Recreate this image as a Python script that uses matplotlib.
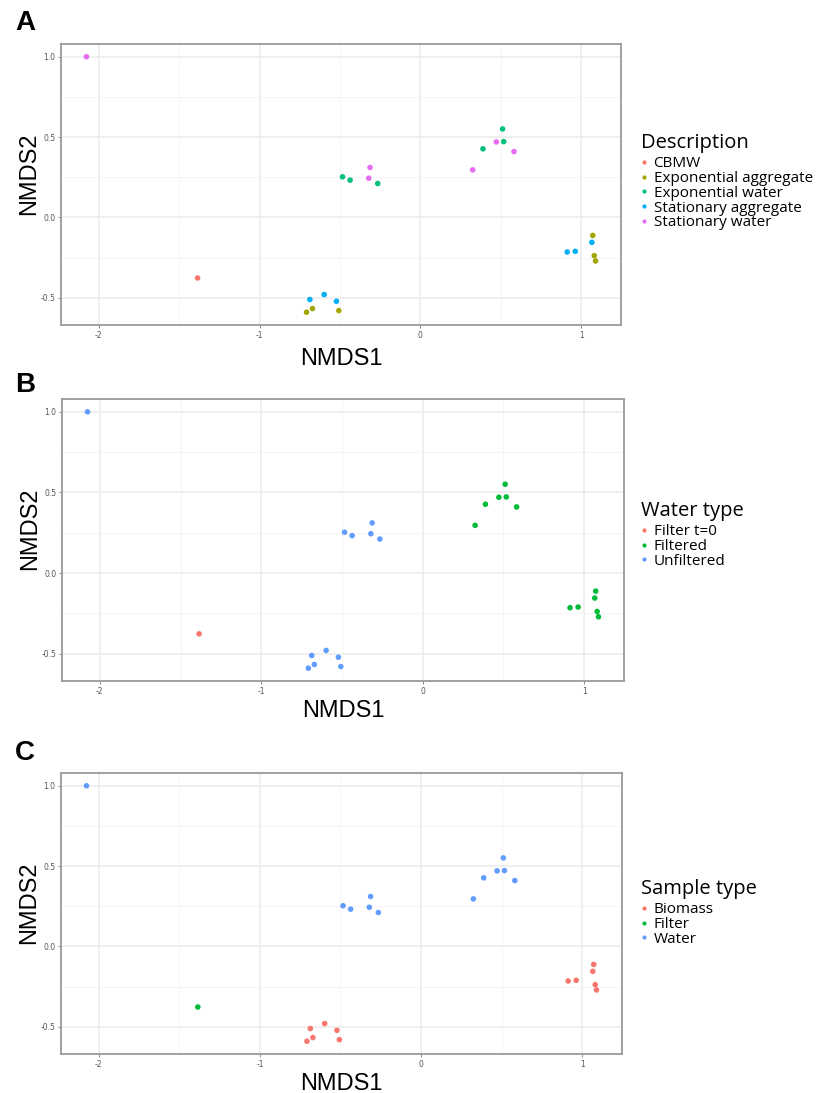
import matplotlib
matplotlib.use("Agg")
import matplotlib.pyplot as plt
from matplotlib.lines import Line2D
from matplotlib.ticker import MultipleLocator

# ---- data (NMDS coordinates of 25 samples) ----
nmds1 = [-2.076, -1.385, -0.484, -0.437, -0.265, -0.313, -0.321,
         -0.687, -0.598, -0.522, -0.708, -0.671, -0.507,
         0.511, 0.518, 0.389, 0.472, 0.582, 0.325,
         1.066, 0.913, 0.963, 1.072, 1.081, 1.089]
nmds2 = [1.000, -0.377, 0.253, 0.232, 0.211, 0.311, 0.244,
         -0.511, -0.480, -0.522, -0.590, -0.567, -0.580,
         0.551, 0.472, 0.427, 0.470, 0.410, 0.296,
         -0.155, -0.215, -0.211, -0.112, -0.238, -0.271]

description = ["Stationary water", "CBMW",
               "Exponential water", "Exponential water", "Exponential water",
               "Stationary water", "Stationary water",
               "Stationary aggregate", "Stationary aggregate", "Stationary aggregate",
               "Exponential aggregate", "Exponential aggregate", "Exponential aggregate",
               "Exponential water", "Exponential water", "Exponential water",
               "Stationary water", "Stationary water", "Stationary water",
               "Stationary aggregate", "Stationary aggregate", "Stationary aggregate",
               "Exponential aggregate", "Exponential aggregate", "Exponential aggregate"]
water_type = ["Unfiltered", "Filter t=0"] + ["Unfiltered"] * 11 + ["Filtered"] * 12
sample_type = ["Water", "Filter"] + ["Water"] * 5 + ["Biomass"] * 6 + ["Water"] * 6 + ["Biomass"] * 6

desc_levels = ["CBMW", "Exponential aggregate", "Exponential water",
               "Stationary aggregate", "Stationary water"]
desc_colors = ["#F8766D", "#A3A500", "#00BF7D", "#00B0F6", "#E76BF3"]
water_levels = ["Filter t=0", "Filtered", "Unfiltered"]
sample_levels = ["Biomass", "Filter", "Water"]
three_colors = ["#F8766D", "#00BA38", "#619CFF"]

W, H = 824, 1093
fig = plt.figure(figsize=(W / 100, H / 100), dpi=100)

LEG_FONT = "Open Sans"

panels = [
    # label, categories, levels, colors, title, axes box px (left, top, right, bottom), legend top px, label y
    ("A", description, desc_levels, desc_colors, "Description", (61, 44, 621, 325), 125, 10),
    ("B", water_type, water_levels, three_colors, "Water type", (62, 399, 624, 681), 493, 372),
    ("C", sample_type, sample_levels, three_colors, "Sample type", (61, 773, 622, 1054), 871, 740),
]

xr = max(nmds1) - min(nmds1)
yr = max(nmds2) - min(nmds2)
xlim = (min(nmds1) - 0.05 * xr, max(nmds1) + 0.05 * xr)
ylim = (min(nmds2) - 0.05 * yr, max(nmds2) + 0.05 * yr)

for lab, cats, levels, colors, title, (l, t, r, b), legtop, laby in panels:
    ax = fig.add_axes([l / W, 1 - b / H, (r - l) / W, (b - t) / H])
    for lev, col in zip(levels, colors):
        xs = [x for x, c in zip(nmds1, cats) if c == lev]
        ys = [y for y, c in zip(nmds2, cats) if c == lev]
        ax.scatter(xs, ys, s=16, color=col, edgecolors="none", zorder=3)
    ax.set_xlim(*xlim)
    ax.set_ylim(*ylim)
    ax.xaxis.set_major_locator(MultipleLocator(1))
    ax.xaxis.set_minor_locator(MultipleLocator(0.5))
    ax.yaxis.set_major_locator(MultipleLocator(0.5))
    ax.yaxis.set_minor_locator(MultipleLocator(0.25))
    ax.set_xticks([-2, -1, 0, 1])
    ax.set_xticklabels(["-2", "-1", "0", "1"])
    ax.set_yticks([-0.5, 0.0, 0.5, 1.0])
    ax.set_yticklabels(["-0.5", "0.0", "0.5", "1.0"])
    ax.grid(True, which="major", color="#ebebeb", lw=1.1, zorder=0)
    ax.grid(True, which="minor", color="#f2f2f2", lw=0.6, zorder=0)
    ax.set_axisbelow(True)
    ax.tick_params(which="major", length=2.5, width=0.7, color="#888888",
                   labelsize=5.5, labelcolor="#555555", pad=1.5)
    ax.tick_params(which="minor", length=0)
    for sp in ax.spines.values():
        sp.set_color("#9a9a9a")
        sp.set_linewidth(1.3)
    ax.set_xlabel("NMDS1", fontsize=17, family="Liberation Sans", labelpad=6 if lab == "A" else 3)
    ax.set_ylabel("NMDS2", fontsize=17, family="Liberation Sans")
    ax.yaxis.set_label_coords(-0.037, 0.54)

    handles = [Line2D([], [], marker="o", ls="none", color=c, markersize=3, markeredgewidth=0)
               for c in colors]
    leg = ax.legend(handles, levels, title=title, loc="upper left",
                    bbox_to_anchor=(633 / W, 1 - legtop / H), bbox_transform=fig.transFigure,
                    frameon=False, borderpad=0, handlelength=0.5, handletextpad=0.35,
                    labelspacing=-0.01, alignment="left",
                    prop={"family": LEG_FONT, "size": 11.0},
                    title_fontproperties={"family": LEG_FONT, "size": 14.5})
    leg._legend_box.sep = 2.5

    fig.text(15 / W, 1 - laby / H, lab, fontsize=20, fontweight="bold",
             family="Liberation Sans", va="top", ha="left")

fig.savefig("out.png", dpi=100)
